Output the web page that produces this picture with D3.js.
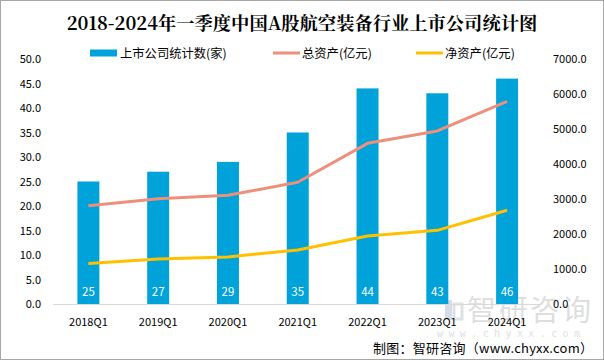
<!DOCTYPE html>
<html><head><meta charset="utf-8">
<script src="https://cdn.jsdelivr.net/npm/d3@7"></script>
<style>body{margin:0;background:#fff}svg{display:block}</style>
</head><body>
<script>
const categories = ["2018Q1","2019Q1","2020Q1","2021Q1","2022Q1","2023Q1","2024Q1"];
const companyCounts = [25,27,29,35,44,43,46];
const totalAssets = [2810,3010,3105,3480,4590,4945,5790];
const netAssets = [1160,1285,1345,1545,1945,2105,2680];
const leftTicks = [0,5,10,15,20,25,30,35,40,45,50];
const rightTicks = [0,1000,2000,3000,4000,5000,6000,7000];

const W=604,H=360;
const svg=d3.select("body").append("svg").attr("width",W).attr("height",H);
svg.append("rect").attr("x",0.5).attr("y",0.5).attr("width",W-1).attr("height",H-1).attr("fill","#fff").attr("stroke","#a6a6a6");

const x=d3.scaleBand().domain(categories).range([53.5,542]).paddingInner(0.685).paddingOuter(0.3425);
const yL=d3.scaleLinear().domain([0,50]).range([304,59]);
const yR=d3.scaleLinear().domain([0,7000]).range([304,59]);

const font="'Microsoft YaHei','Noto Sans CJK SC','Noto Sans',sans-serif";

// title
svg.append("text").attr("x",302).attr("y",30).attr("text-anchor","middle")
 .attr("font-family","'Noto Serif CJK SC','SimSun','Liberation Serif','Noto Sans CJK SC',serif").attr("font-weight","bold")
 .attr("font-size",18.3).attr("fill","#000").text("2018-2024年一季度中国A股航空装备行业上市公司统计图");

// watermark
const wm=svg.append("g").attr("opacity",0.25);
wm.append("rect").attr("x",445).attr("y",300).attr("width",7).attr("height",20).attr("fill","#5b7fa8");
wm.append("rect").attr("x",454).attr("y",304).attr("width",8).attr("height",15).attr("fill","none").attr("stroke","#7f8c9a").attr("stroke-width",3);
wm.append("text").attr("x",467).attr("y",321).attr("font-family",font).attr("font-size",29).attr("fill","#7f7f7f").attr("textLength",124).text("智研咨询");
wm.append("text").attr("x",437).attr("y",337).attr("font-family","'DejaVu Sans Mono',monospace").attr("font-size",10).attr("fill","#7f7f7f").attr("textLength",143).text("www.chyxx.com");

// bars
svg.append("g").selectAll("rect").data(categories).join("rect")
 .attr("x",d=>x(d)).attr("width",x.bandwidth())
 .attr("y",(d,i)=>yL(companyCounts[i])).attr("height",(d,i)=>yL(0)-yL(companyCounts[i]))
 .attr("fill","#00a2da");

// baseline
svg.append("line").attr("x1",53).attr("x2",542).attr("y1",304.5).attr("y2",304.5).attr("stroke","#d9d9d9");

// bar labels
svg.append("g").selectAll("text").data(categories).join("text")
 .attr("x",d=>x(d)+x.bandwidth()/2).attr("y",296).attr("text-anchor","middle")
 .attr("font-family",font).attr("font-size",11.5).attr("fill","#fff")
 .text((d,i)=>companyCounts[i]);

// lines
const line=arr=>d3.line().x((d,i)=>x(categories[i])+x.bandwidth()/2).y(d=>yR(d))(arr);
svg.append("path").attr("d",line(totalAssets)).attr("fill","none").attr("stroke","#ee8f7b").attr("stroke-width",3).attr("stroke-linejoin","round");
svg.append("path").attr("d",line(netAssets)).attr("fill","none").attr("stroke","#ffc000").attr("stroke-width",3).attr("stroke-linejoin","round");

// axes
const axL=d3.axisLeft(yL).tickValues(leftTicks).tickFormat(d3.format(".1f")).tickSize(0).tickPadding(0);
const gL=svg.append("g").attr("transform","translate(41,0)").call(axL);
const axR=d3.axisRight(yR).tickValues(rightTicks).tickFormat(d3.format(".1f")).tickSize(0).tickPadding(0);
const gR=svg.append("g").attr("transform","translate(553,0)").call(axR);
const axX=d3.axisBottom(x).tickSize(0).tickPadding(0);
const gX=svg.append("g").attr("transform","translate(0,317)").call(axX);
[gL,gR,gX].forEach(g=>{g.select(".domain").remove();g.selectAll("text").attr("font-family",font).attr("font-size",11).attr("fill","#000");});
gX.selectAll("text").attr("dy","0.71em").attr("y",1);

// legend
const lg=svg.append("g").attr("font-family",font).attr("font-size",12.3).attr("fill","#000");
lg.append("rect").attr("x",90).attr("y",49.5).attr("width",27).attr("height",7).attr("fill","#00a2da");
lg.append("text").attr("x",120).attr("y",57.5).text("上市公司统计数(家)");
lg.append("line").attr("x1",273).attr("x2",300).attr("y1",53).attr("y2",53).attr("stroke","#ee8f7b").attr("stroke-width",3);
lg.append("text").attr("x",302).attr("y",57.5).text("总资产(亿元)");
lg.append("line").attr("x1",416).attr("x2",443).attr("y1",53).attr("y2",53).attr("stroke","#ffc000").attr("stroke-width",3);
lg.append("text").attr("x",445).attr("y",57.5).text("净资产(亿元)");

// footer
svg.append("text").attr("x",593).attr("y",353).attr("text-anchor","end")
 .attr("font-family","'Noto Sans CJK SC',sans-serif").attr("font-size",13).attr("fill","#000")
 .attr("textLength",220)
 .text("制图：智研咨询（www.chyxx.com）");
</script>
</body></html>
